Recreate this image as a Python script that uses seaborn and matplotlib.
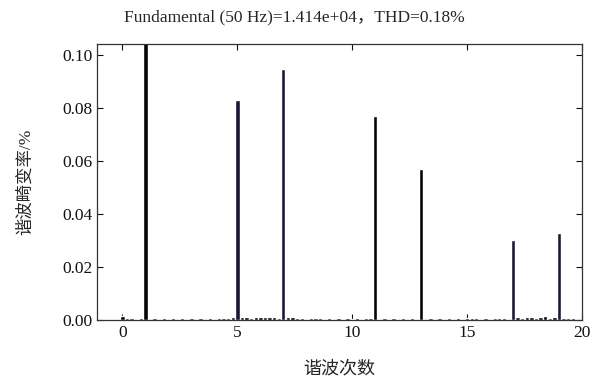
import numpy as np
import pandas as pd
import seaborn as sns
import matplotlib.pyplot as plt

# harmonic spectrum, values (THD per order, %)
main_orders = [1, 5, 7, 11, 13, 17, 19]
main_values = [100.0, 0.083, 0.0947, 0.077, 0.057, 0.0302, 0.0328]
main_groups = ["k", "n", "n", "k", "k", "n", "n"]

# small leakage / noise bars close to zero
small_orders = [0.0, 0.2, 0.4, 0.6, 0.8, 1.4, 1.6, 1.8, 2.2, 2.4, 2.6, 3.0, 3.2,
                3.4, 3.8, 4.0, 4.2, 4.4, 4.6, 4.8, 5.2, 5.4, 5.6, 5.8, 6.0, 6.2,
                6.4, 6.6, 6.8, 7.2, 7.4, 7.6, 7.8, 8.2, 8.4, 8.6, 9.0, 9.2, 9.4,
                9.8, 10.0, 10.2, 10.6, 10.8, 11.4, 11.6, 11.8, 12.2, 12.4, 12.6,
                13.4, 13.6, 13.8, 14.2, 14.4, 14.6, 15.0, 15.2, 15.4, 15.8, 16.0,
                16.2, 16.4, 16.6, 17.2, 17.4, 17.6, 17.8, 18.0, 18.2, 18.4, 18.6,
                18.8, 19.2, 19.4, 19.6]
small_values = [0.0014, 0.0007, 0.0006, 0.0005, 0.0008, 0.0006, 0.0005, 0.0006,
                0.0007, 0.0005, 0.0006, 0.0007, 0.0005, 0.0006, 0.0006, 0.0005,
                0.0007, 0.0006, 0.0009, 0.0012, 0.0013, 0.0011, 0.0009, 0.0010,
                0.0013, 0.0010, 0.0012, 0.0011, 0.0009, 0.0013, 0.0010, 0.0008,
                0.0008, 0.0007, 0.0006, 0.0006, 0.0007, 0.0005, 0.0006, 0.0006,
                0.0005, 0.0008, 0.0006, 0.0007, 0.0007, 0.0005, 0.0006, 0.0006,
                0.0005, 0.0006, 0.0007, 0.0005, 0.0006, 0.0006, 0.0005, 0.0007,
                0.0009, 0.0006, 0.0007, 0.0006, 0.0005, 0.0007, 0.0006, 0.0008,
                0.0011, 0.0009, 0.0013, 0.0010, 0.0008, 0.0012, 0.0015, 0.0009,
                0.0010, 0.0009, 0.0006, 0.0007]

df = pd.DataFrame({
    "order": main_orders + small_orders,
    "thd": main_values + small_values,
    "grp": main_groups + ["k"] * len(small_orders),
})

sns.set_style("ticks")
plt.rcParams["font.family"] = ["Liberation Serif", "Noto Sans CJK SC"]
plt.rcParams["axes.unicode_minus"] = False

fig = plt.figure(figsize=(6, 3.8), dpi=100)
ax = fig.add_axes([0.162, 0.158, 0.808, 0.726])

sns.barplot(data=df, x="order", y="thd", hue="grp", native_scale=True,
            dodge=False, width=0.95, palette={"k": "#050505", "n": "#14143c"},
            legend=False, ax=ax)

ax.set_xlim(-1.1, 20)
ax.set_ylim(0, 0.104)
ax.set_xticks([0, 5, 10, 15, 20])
ax.set_yticks([0, 0.02, 0.04, 0.06, 0.08, 0.10])
ax.set_yticklabels(["0.00", "0.02", "0.04", "0.06", "0.08", "0.10"])
ax.tick_params(direction="in", top=True, right=True, length=4, width=0.8,
               labelsize=12.5, colors="#111111")
for s in ax.spines.values():
    s.set_linewidth(0.9)
    s.set_color("#333333")

ax.set_xlabel("谐波次数", fontsize=13, labelpad=14)
ax.set_ylabel("谐波畸变率/%", fontsize=12.5, labelpad=20)
# title is centred on the figure, not on the axes
ax.set_title("Fundamental (50 Hz)=1.414e+04，THD=0.18%", fontsize=12.5,
             pad=16, x=(0.49 - 0.162) / 0.808)

fig.savefig("out.png", dpi=100)
